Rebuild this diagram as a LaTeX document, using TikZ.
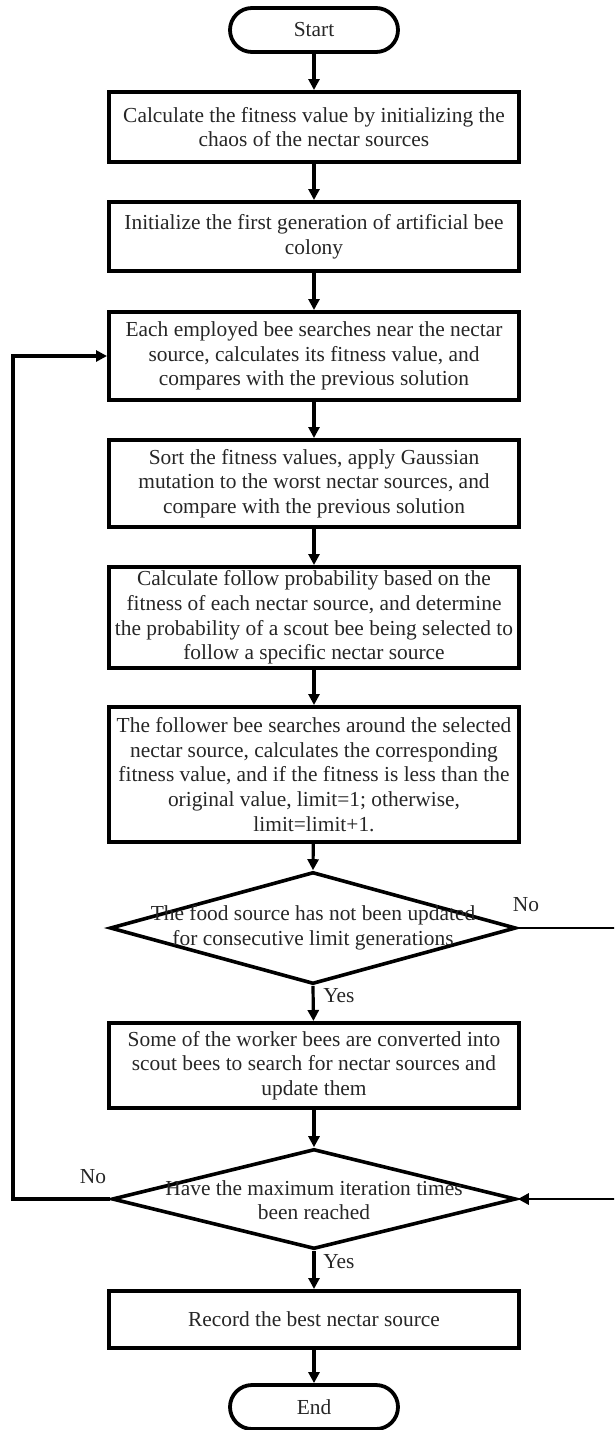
\documentclass[tikz,border=0pt]{standalone}
\usepackage{fontspec}
\setmainfont{Liberation Serif}
\usetikzlibrary{shapes.geometric,arrows.meta}
\begin{document}
\begin{tikzpicture}[x=1pt,y=-1pt,
  every node/.append style={font=\fontsize{21.4}{24.6}\selectfont, text=black!85},
  procbox/.style={draw=black, line width=4pt, minimum width=410pt, align=center, inner sep=0pt},
  term/.style={draw=black, line width=3.8pt, rounded corners=22pt, minimum width=168pt, minimum height=44pt, inner sep=0pt},
  decision/.style={draw=black, diamond, line width=3.6pt, inner sep=0pt},
  flow/.style={draw=black, line width=3.2pt, -{Triangle[length=11pt,width=11pt]}},
  thinflow/.style={draw=black, line width=2.8pt, -{Triangle[length=11pt,width=11pt]}},
  lbl/.style={inner sep=0pt}
  ]
\useasboundingbox (0,0) rectangle (614,1430);
\clip (0,0) rectangle (614,1430);

% terminals and process steps
\node[term] (start) at (314,30) {Start};
\node[procbox, minimum height=70pt] (b1) at (314,127)
  {Calculate the fitness value by initializing the\\chaos of the nectar sources};
\node[procbox, minimum height=69pt] (b2) at (314,236.5)
  {Initialize the first generation of artificial bee\\colony};
\node[procbox, minimum height=88pt] (b3) at (314,356)
  {Each employed bee searches near the nectar\\source, calculates its fitness value, and\\compares with the previous solution};
\node[procbox, minimum height=87pt] (b4) at (314,483.5)
  {Sort the fitness values, apply Gaussian\\mutation to the worst nectar sources, and\\compare with the previous solution};
\node[procbox, minimum height=101pt] (b5) at (314,617.5)
  {Calculate follow probability based on the\\fitness of each nectar source, and determine\\the probability of a scout bee being selected to\\follow a specific nectar source};
\node[procbox, minimum height=135pt] (b6) at (314,774.5)
  {The follower bee searches around the selected\\nectar source, calculates the corresponding\\fitness value, and if the fitness is less than the\\original value, limit=1; otherwise,\\limit=limit+1.};

% first decision
\node[decision, minimum width=406pt, minimum height=112pt] (d1) at (313,928) {};
\node[align=center, inner sep=0pt] (d1t) at (313,928)
  {The food source has not been updated\\for consecutive limit generations};

\node[procbox, minimum height=85pt] (b7) at (314,1065.5)
  {Some of the worker bees are converted into\\scout bees to search for nectar sources and\\update them};

% second decision
\node[decision, minimum width=404pt, minimum height=100pt] (d2) at (314,1199) {};
\node[align=center, inner sep=0pt] (d2t) at (314,1200)
  {Have the maximum iteration times\\been reached};

\node[procbox, minimum height=57pt] (b8) at (314,1319.5) {Record the best nectar source};
\node[term] (end) at (314,1407) {End};

% main flow
\draw[flow] (start) -- (b1);
\draw[flow] (b1) -- (b2);
\draw[flow] (b2) -- (b3);
\draw[flow] (b3) -- (b4);
\draw[flow] (b4) -- (b5);
\draw[flow] (b5) -- (b6);
\draw[flow] (b6) -- (d1.north);
\draw[flow] (d1.south) -- (b7);
\draw[flow] (b7) -- (d2.north);
\draw[flow] (d2.south) -- (b8);
\draw[flow] (b8) -- (end);

% loops
\coordinate (loopL) at (13,1199);
\coordinate (loopR) at (640,928);
\draw[flow] (d2.west) -- (loopL) |- (b3.west);
\draw[thinflow] (d1.east) -- (loopR) |- (d2.east);

% branch labels
\node[lbl] (no1) at (526,905) {No};
\node[lbl] (yes1) at (339,996) {Yes};
\node[lbl] (no2) at (93,1177) {No};
\node[lbl] (yes2) at (339,1262) {Yes};
\end{tikzpicture}
\end{document}
